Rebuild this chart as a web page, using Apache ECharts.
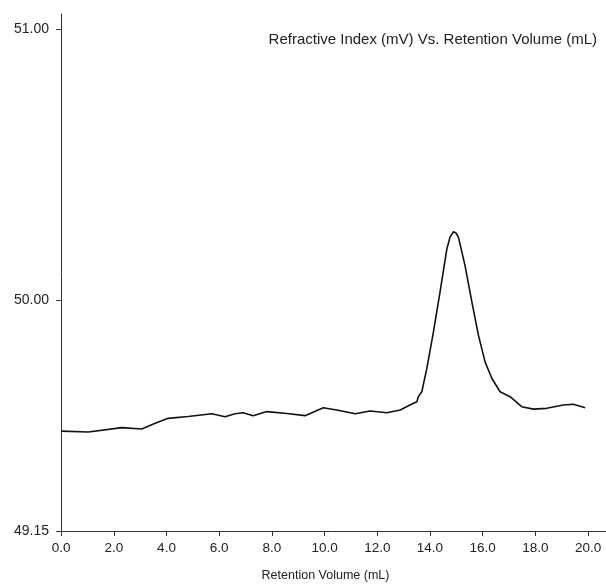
<!DOCTYPE html>
<html>
<head>
<meta charset="utf-8">
<script src="https://cdn.jsdelivr.net/npm/echarts@6/dist/echarts.min.js"></script>
<style>
  html, body { margin: 0; padding: 0; background: #fff; }
  #chart { width: 606px; height: 587px; }
</style>
</head>
<body>
<div id="chart"></div>
<script>
// retention volume (mL) and detector signal (mV)
var retentionVolume = [0.0, 1.04, 2.30, 3.06, 3.57, 4.06, 4.82, 5.72, 6.22, 6.60, 6.91, 7.29, 7.81, 8.57, 9.26, 9.95, 10.46, 11.16, 11.73, 12.36, 12.87, 13.24, 13.50, 13.56, 13.69, 13.88, 14.13, 14.38, 14.64, 14.76, 14.89, 14.99, 15.08, 15.33, 15.59, 15.84, 16.09, 16.35, 16.66, 17.04, 17.48, 17.92, 18.43, 19.06, 19.44, 19.89]
var refractiveIndex = [49.518, 49.515, 49.531, 49.526, 49.547, 49.565, 49.572, 49.582, 49.571, 49.582, 49.586, 49.575, 49.590, 49.583, 49.575, 49.604, 49.596, 49.582, 49.592, 49.586, 49.596, 49.614, 49.626, 49.645, 49.663, 49.749, 49.883, 50.030, 50.189, 50.233, 50.2525, 50.248, 50.232, 50.128, 49.993, 49.871, 49.773, 49.712, 49.663, 49.645, 49.608, 49.599, 49.602, 49.614, 49.617, 49.604]

var xTicks = [0, 2, 4, 6, 8, 10, 12, 14, 16, 18, 20]
var yTicks = [49.15, 50.00, 51.00]

var chartTitle = 'Refractive Index (mV) Vs. Retention Volume (mL)'
var xName = 'Retention Volume (mL)'

var points = retentionVolume.map(function (v, i) { return [v, refractiveIndex[i]] })

var myChart = echarts.init(document.getElementById('chart'))
var option = {
    backgroundColor: '#fff',
    animation: false,
    textStyle: { fontFamily: 'Liberation Sans, Arial, sans-serif' },
    title: {
        text: chartTitle,
        right: 4,
        top: 27,
        textStyle: { fontSize: 15, fontWeight: 'normal', color: '#222' }
    },
    grid: { left: 59, right: 0, top: 14, bottom: 54, containLabel: false },
    xAxis: {
        type: 'value',
        min: -0.08,
        max: 20.68,
        name: xName,
        nameLocation: 'middle',
        nameGap: 38,
        nameTextStyle: { fontSize: 12.5, color: '#222', padding: [0, 14, 0, 0] },
        axisLine: { lineStyle: { color: '#333', width: 1 } },
        axisTick: { customValues: xTicks, length: 5, inside: false, lineStyle: { color: '#333' } },
        axisLabel: {
            customValues: xTicks,
            margin: 10,
            fontSize: 13.5,
            color: '#222',
            formatter: function (v) { return v.toFixed(1) }
        },
        splitLine: { show: false }
    },
    yAxis: {
        type: 'value',
        min: 49.15,
        max: 51.055,
        axisLine: { show: true, lineStyle: { color: '#333', width: 1 } },
        axisTick: { show: true, customValues: yTicks, length: 5, lineStyle: { color: '#333' } },
        axisLabel: {
            customValues: yTicks,
            margin: 10,
            fontSize: 14,
            color: '#222',
            formatter: function (v) { return v.toFixed(2) }
        },
        splitLine: { show: false }
    },
    series: [
        {
            type: 'line',
            data: points,
            showSymbol: false,
            smooth: false,
            lineStyle: { color: '#111', width: 1.6 }
        }
    ]
}
myChart.setOption(option)
</script>
</body>
</html>
